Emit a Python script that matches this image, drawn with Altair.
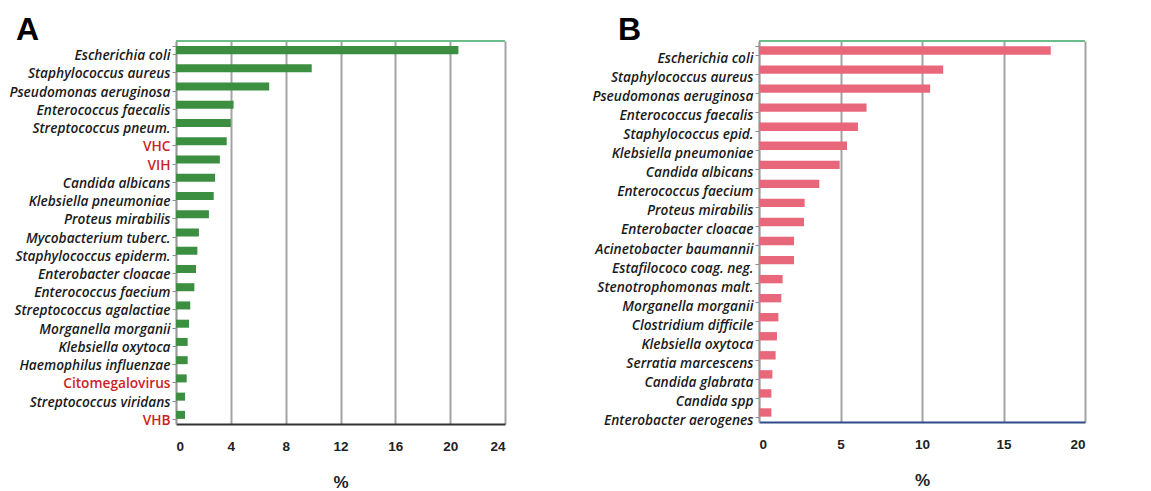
import altair as alt
import pandas as pd

cats_a = ["Escherichia coli", "Staphylococcus aureus", "Pseudomonas aeruginosa",
          "Enterococcus faecalis", "Streptococcus pneum.", "VHC", "VIH",
          "Candida albicans", "Klebsiella pneumoniae", "Proteus mirabilis",
          "Mycobacterium tuberc.", "Staphylococcus epiderm.", "Enterobacter cloacae",
          "Enterococcus faecium", "Streptococcus agalactiae", "Morganella morganii",
          "Klebsiella oxytoca", "Haemophilus influenzae", "Citomegalovirus",
          "Streptococcus viridans", "VHB"]
vals_a = [20.6, 9.9, 6.8, 4.2, 4.0, 3.7, 3.2, 2.85, 2.75, 2.4, 1.67, 1.56, 1.46,
          1.34, 1.04, 0.95, 0.85, 0.85, 0.78, 0.66, 0.66]
red_a = ["VHC", "VIH", "Citomegalovirus", "VHB"]

cats_b = ["Escherichia coli", "Staphylococcus aureus", "Pseudomonas aeruginosa",
          "Enterococcus faecalis", "Staphylococcus epid.", "Klebsiella pneumoniae",
          "Candida albicans", "Enterococcus faecium", "Proteus mirabilis",
          "Enterobacter cloacae", "Acinetobacter baumannii", "Estafilococo coag. neg.",
          "Stenotrophomonas malt.", "Morganella morganii", "Clostridium difficile",
          "Klebsiella oxytoca", "Serratia marcescens", "Candida glabrata",
          "Candida spp", "Enterobacter aerogenes"]
vals_b = [17.9, 11.3, 10.5, 6.6, 6.07, 5.4, 4.95, 3.7, 2.8, 2.76, 2.15, 2.15,
          1.45, 1.37, 1.19, 1.1, 1.02, 0.82, 0.76, 0.76]

ticks_a = [0, 4, 8, 12, 16, 20, 24]
ticks_b = [0, 5, 10, 15, 20]


def panel(cats, vals, red, color, ticks, letter, w, h, extent, bottom_color,
          label_offset, letter_x):
    df = pd.DataFrame({"cat": cats, "val": vals})
    red_js = "[" + ",".join("'" + r + "'" for r in red) + "]"
    is_red = "indexof(" + red_js + ", datum.value) >= 0"
    y = alt.Y(
        "cat:N", sort=cats, title=None,
        scale=alt.Scale(paddingInner=0.56, paddingOuter=0.28),
        axis=alt.Axis(
            labelFont="Open Sans", labelFontSize=13.7, labelFontWeight=600,
            labelFontStyle=alt.expr(is_red + " ? 'normal' : 'italic'"),
            labelColor=alt.expr(is_red + " ? '#cc1f1f' : '#1a1a1a'"),
            labelOffset=label_offset, labelPadding=2, labelLimit=0,
            tickBand="extent", tickSize=4, tickColor="#8a8a8a",
            domainColor="#9a9a9a", domainWidth=1.5,
            minExtent=extent, maxExtent=extent, grid=False,
        ),
    )
    x = alt.X(
        "val:Q", title="%",
        scale=alt.Scale(domain=[ticks[0], ticks[-1]], nice=False),
        axis=alt.Axis(
            values=ticks, grid=True, gridColor="#a3a3a3", gridWidth=2,
            tickSize=0, labelPadding=15, labelFont="Liberation Sans",
            labelFontSize=13.5, labelFontWeight="bold", labelColor="#222",
            domainColor=bottom_color, domainWidth=2,
            titleFont="Liberation Sans", titleFontSize=17, titleFontWeight="bold",
            titleColor="#222", titlePadding=22,
        ),
    )
    bars = alt.Chart(df).mark_bar(color=color).encode(x=x, y=y)
    one = pd.DataFrame({"t": [letter]})
    top = alt.Chart(one).mark_rule(
        color="#6dbd8a", strokeWidth=2
    ).encode(x=alt.value(0), x2=alt.value(w), y=alt.value(0))
    lab = alt.Chart(one).mark_text(
        font="Liberation Sans", fontSize=32, fontWeight="bold", color="#000",
        align="left", baseline="alphabetic"
    ).encode(text="t:N", x=alt.value(letter_x), y=alt.value(-1))
    return alt.layer(bars, top, lab).properties(width=w, height=h)


pa = panel(cats_a, vals_a, red_a, "#3c8f40", ticks_a, "A", 329, 383, 166,
           "#333333", 5.5, -160)
pb = panel(cats_b, vals_b, [], "#e8677a", ticks_b, "B", 326, 381, 168,
           "#2f4a8a", 8, -141)

chart = alt.hconcat(pa, pb, spacing=85).properties(
    padding={"left": 0, "top": 6, "right": 5, "bottom": 0}
).configure_view(stroke=None)

chart.save("out.html", embed_options={"renderer": "svg", "actions": False})
